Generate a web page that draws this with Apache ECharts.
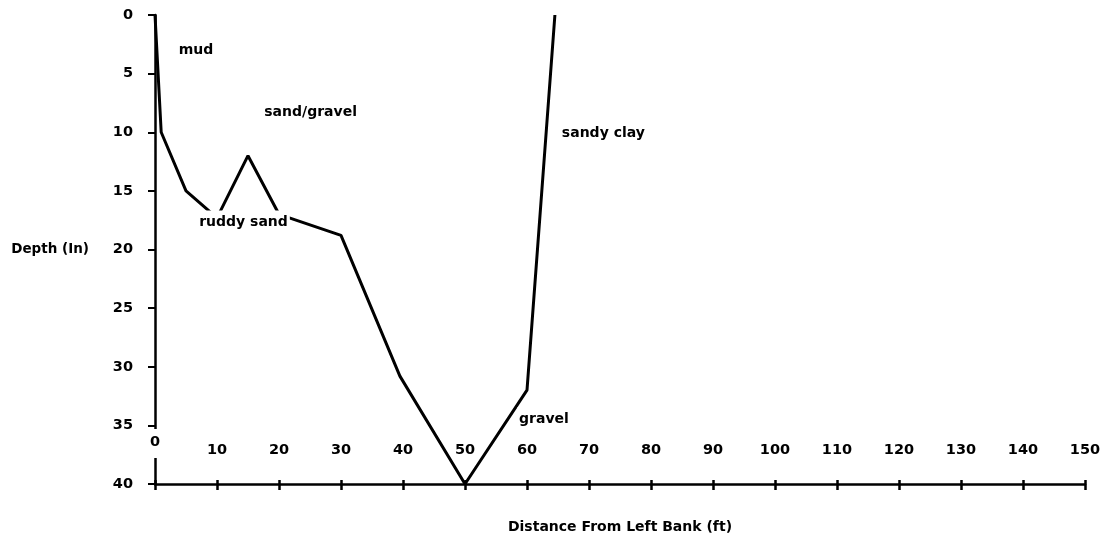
<!DOCTYPE html>
<html>
<head>
<meta charset="utf-8">
<script src="https://cdn.jsdelivr.net/npm/echarts@6/dist/echarts.min.js"></script>
<style>
  html, body { margin: 0; padding: 0; background: #fff; }
  #chart { width: 1115px; height: 542px; }
</style>
</head>
<body>
<div id="chart"></div>
<script>
// Cross-section profile: distance from left bank (ft) vs depth (in)
const distance = [0, 1, 5, 10, 15, 20, 30, 39.5, 50, 60, 64.5];
const depth    = [0, 10, 15, 17.3, 12, 17, 18.8, 30.8, 40, 32, 0];

// Substrate annotations (anchor = left edge / vertical centre of text, in data units)
const noteText = ['mud', 'sand/gravel', 'ruddy sand', 'sandy clay', 'gravel'];
const noteX    = [3.5, 17.3, 6.8, 65.3, 58.4];
const noteY    = [3.0, 8.3, 17.7, 10.1, 34.5];

const xTicks = { min: 0, max: 150, interval: 10 };
const yTicks = { min: 0, max: 40, interval: 5 };

const FONT = 'DejaVu Sans';

const chart = echarts.init(document.getElementById('chart'), null, { renderer: 'canvas' });

const profile = distance.map((d, i) => [d, depth[i]]);
const notes = noteText.map((t, i) => ({ value: [noteX[i], noteY[i]], name: t }));

chart.setOption({
  backgroundColor: '#ffffff',
  animation: false,
  grid: { left: 155, right: 30, top: 15, bottom: 58, containLabel: false },
  xAxis: [
    {
      type: 'value',
      position: 'bottom',
      min: xTicks.min, max: xTicks.max, interval: xTicks.interval,
      z: 5,
      name: 'Distance From Left Bank (ft)',
      nameLocation: 'middle',
      nameGap: 36,
      nameTextStyle: { fontFamily: FONT, fontSize: 14, fontWeight: 'bold', color: '#000' },
      axisLine: { onZero: false, lineStyle: { color: '#000', width: 2.5 } },
      axisTick: { show: true, inside: false, length: 6, lineStyle: { color: '#000', width: 2.5 } },
      axisLabel: {
        inside: true,
        margin: 26,
        fontFamily: FONT, fontSize: 14.5, fontWeight: 'bold', color: '#000',
        formatter: function (v) { return v === 0 ? '{z|0}' : String(v); },
        rich: {
          z: { fontFamily: FONT, fontSize: 14.5, fontWeight: 'bold', color: '#000',
               backgroundColor: '#fff', padding: [6, 3, 8, 3] }
        }
      },
      splitLine: { show: false }
    },
    {
      type: 'value',
      position: 'bottom',
      min: xTicks.min, max: xTicks.max, interval: xTicks.interval,
      axisLine: { show: false, onZero: false },
      axisTick: { show: true, inside: true, length: 4, lineStyle: { color: '#000', width: 2.5 } },
      axisLabel: { show: false },
      splitLine: { show: false }
    }
  ],
  yAxis: {
    type: 'value',
    inverse: true,
    min: yTicks.min, max: yTicks.max, interval: yTicks.interval,
    z: 1,
    name: 'Depth (In)',
    nameLocation: 'middle',
    nameRotate: 0,
    nameGap: 66,
    nameTextStyle: { fontFamily: FONT, fontSize: 13.5, fontWeight: 'bold', color: '#000', padding: [0, 0, 12, 0] },
    axisLine: { onZero: false, lineStyle: { color: '#000', width: 2.5 } },
    axisTick: { show: true, inside: false, length: 7, lineStyle: { color: '#000', width: 2 } },
    axisLabel: { margin: 22, fontFamily: FONT, fontSize: 14.5, fontWeight: 'bold', color: '#000' },
    splitLine: { show: false }
  },
  series: [
    {
      type: 'line',
      xAxisIndex: 0,
      data: profile,
      symbol: 'none',
      z: 3,
      lineStyle: { color: '#000', width: 3 }
    },
    {
      type: 'scatter',
      xAxisIndex: 0,
      data: notes,
      symbolSize: 0,
      z: 10,
      silent: true,
      itemStyle: { opacity: 1, color: '#000' },
      label: {
        show: true,
        position: 'right',
        distance: 0,
        formatter: '{b}',
        fontFamily: FONT, fontSize: 14, fontWeight: 'bold', color: '#000',
        backgroundColor: '#fff',
        padding: [5, 2]
      }
    }
  ]
});
</script>
</body>
</html>
